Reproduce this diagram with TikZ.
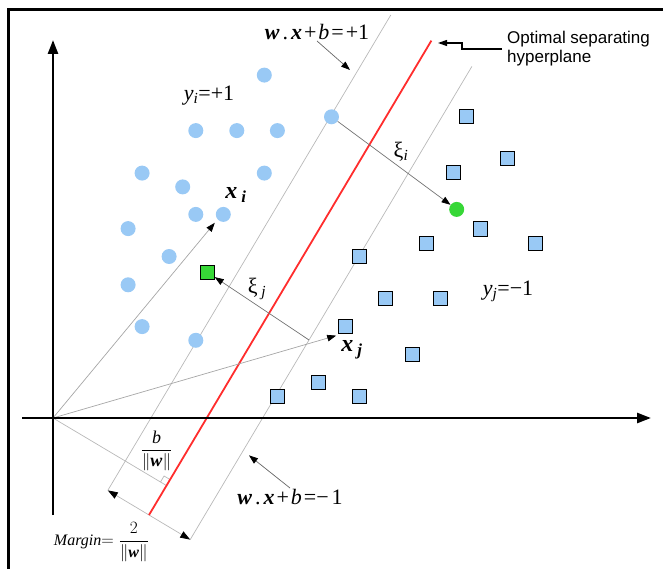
\documentclass[tikz,border=0pt]{standalone}
\usepackage{fontspec}
\setmainfont{Liberation Serif}
\newfontfamily\arialf{Liberation Sans}
\usepackage{tikz}
\usetikzlibrary{arrows.meta,calc}
\definecolor{ptblue}{RGB}{153,201,245}
\definecolor{ptgreen}{RGB}{55,215,55}
\definecolor{hypred}{RGB}{255,45,45}
\newcommand{\bv}[1]{\textbf{\textit{#1}}}
\newcommand{\fsz}[1]{\fontsize{#1}{#1}\selectfont}

\begin{document}
\begin{tikzpicture}[x=1pt, y=-1pt,
  dot/.style={circle, fill=ptblue, inner sep=0pt, minimum size=15pt},
  sqr/.style={draw=black, fill=ptblue, line width=1pt, inner sep=0pt, minimum size=14pt},
  mline/.style={draw=black!28, line width=0.7pt},
  vec/.style={draw=black!35, line width=0.7pt, -{Triangle[length=9pt,width=6.5pt,color=black]}},
  dist/.style={draw=black!55, line width=0.7pt, -{Triangle[length=9pt,width=6.5pt,color=black]}},
  axis/.style={line width=2.6pt, -{Triangle[length=14pt,width=10pt]}},
  lbl/.style={inner sep=1pt, font=\fsz{22}}]
  \useasboundingbox (0,0) rectangle (663,569);
  \draw[line width=3pt] (8,569) -- (8,10) -- (663,10);
  % hyperplane and the two margins
  \coordinate (O)    at (53,418);
  \coordinate (redB) at (149,515);
  \coordinate (redT) at (431.4,40.6);
  \coordinate (upB)  at (107.8,490.4);
  \coordinate (upT)  at (390.8,15);
  \coordinate (loB)  at (190.2,539.6);
  \coordinate (loT)  at (471.9,66.4);
  \coordinate (foot) at ($(redB)!(O)!(redT)$);
  \draw[mline] (upB) -- (upT);
  \draw[mline] (loB) -- (loT);
  \draw[mline] (O) -- (foot);
  \coordinate (ra) at ($(foot)!7pt!(O)$);
  \coordinate (rb) at ($(foot)!7pt!(redT)$);
  \draw[mline] (ra) -- ($(ra)+(rb)-(foot)$) -- (rb);
  \draw[mline, {Triangle[length=10pt,width=7pt,color=black]}-{Triangle[length=10pt,width=7pt,color=black]}] (upB) -- (loB);
  \draw[hypred, line width=1.8pt] (redB) -- (redT);
  % position vectors
  \coordinate (xiT) at (214.8,222.8);
  \coordinate (xjT) at (336.2,335.6);
  \draw[vec] (O) -- (xiT);
  \draw[vec] (O) -- (xjT);
  % axes
  \draw[axis] (53,515) -- (53,40);
  \draw[axis] (22,418) -- (651,418);
  % class +1
  \node[dot] (c1)  at (264.3,75.1)  {};
  \node[dot] (c2)  at (195.8,130.6) {};
  \node[dot] (c3)  at (236.8,130.6) {};
  \node[dot] (c4)  at (277.4,130.6) {};
  \node[dot] (c5)  at (331.5,116.8) {};
  \node[dot] (c6)  at (142.1,173.1) {};
  \node[dot] (c7)  at (182.7,186.9) {};
  \node[dot] (c8)  at (264.3,173.1) {};
  \node[dot] (c9)  at (195.8,214.4) {};
  \node[dot] (c10) at (223.3,214.4) {};
  \node[dot] (c11) at (128.1,228.6) {};
  \node[dot] (c12) at (169.1,256.5) {};
  \node[dot] (c13) at (128.1,284.8) {};
  \node[dot] (c14) at (142.1,326.6) {};
  \node[dot] (c15) at (195.8,340.3) {};
  \node[dot, fill=ptgreen] (gdot) at (456.7,209.4) {};
  % class -1
  \node[sqr] (s1)  at (466.8,116.8) {};
  \node[sqr] (s2)  at (507.4,158.9) {};
  \node[sqr] (s3)  at (453.7,172.7) {};
  \node[sqr] (s4)  at (480.3,229)   {};
  \node[sqr] (s5)  at (426.6,243.1) {};
  \node[sqr] (s6)  at (535.3,243.1) {};
  \node[sqr] (s7)  at (359,256.5)   {};
  \node[sqr] (s8)  at (385.6,298.6) {};
  \node[sqr] (s9)  at (440.6,298.6) {};
  \node[sqr] (s10) at (345,326.9)   {};
  \node[sqr] (s11) at (412.7,354.1) {};
  \node[sqr] (s12) at (318,382.8)   {};
  \node[sqr] (s13) at (277.4,396.2) {};
  \node[sqr] (s14) at (359,396.2)   {};
  \node[sqr, fill=ptgreen] (gsq) at (207.2,272.1) {};
  % slack distances
  \coordinate (xjS) at (309,340);
  \draw[dist] (c5) -- (gdot);
  \draw[dist] (xjS) -- (gsq);
  % labels
  \node[lbl] (lyi)  at (209,96)  {\textit{y}\textsubscript{\textit{i}}=+1};
  \node[lbl] (lyj)  at (508,291) {\textit{y}\textsubscript{\textit{j}}=−1};
  \node[lbl, font=\fsz{24}] (lxi) at (236,195) {\bv{x}\,\textsubscript{\bv{i}}};
  \node[lbl, font=\fsz{24}] (lxj) at (352,350) {\bv{x}\,\textsubscript{\bv{j}}};
  \node[lbl] (lksi) at (401,152) {ξ\textsubscript{\textit{i}}};
  \node[lbl] (lksj) at (257,289) {ξ\,\textsubscript{\textit{j}}};
  \node[lbl] (plbl) at (317,32)  {\bv{w}\hspace{3pt}.\hspace{3pt}\bv{x}\hspace{2pt}+\hspace{2pt}\textit{b}\hspace{2pt}=\hspace{2pt}+1};
  \node[lbl] (mlbl) at (290,497) {\bv{w}\hspace{3pt}.\hspace{3pt}\bv{x}\hspace{2pt}+\hspace{2pt}\textit{b}\hspace{2pt}=−\hspace{3pt}1};
  \node[lbl, font=\fsz{18}] (bfrac) at (156.5,451) {$\displaystyle\frac{\textit{b}}{\|\bv{w}\|}$};
  \node[lbl, font=\fsz{16}] (mrg) at (101.5,542) {\textit{Margin}$=\displaystyle\frac{2}{\|\bv{w}\|}$};
  \node[inner sep=5pt, anchor=west, align=left, font=\arialf\fontsize{17}{19}\selectfont] (opt) at (502,49) {Optimal separating\\hyperplane};
  \coordinate (ptip) at (350,70);
  \coordinate (mtip) at (249,455.4);
  \coordinate (optT) at (438,43);
  \draw[dist, draw=black!60] (plbl.south) -- (ptip);
  \draw[dist, draw=black!60] (mlbl.north) -- (mtip);
  \draw[line width=1.1pt, -{Triangle[length=9pt,width=6pt]}] (opt.west) -- ++(-40,0) |- (optT);
\end{tikzpicture}
\end{document}
